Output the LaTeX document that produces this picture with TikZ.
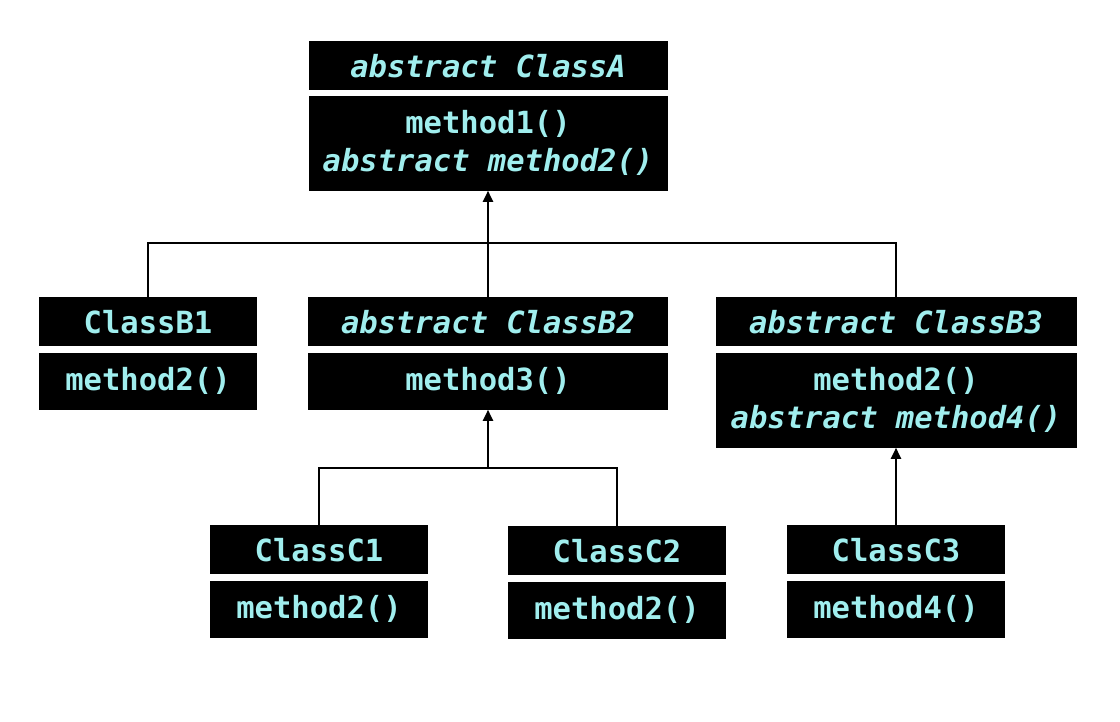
\documentclass[tikz,border=0pt]{standalone}
\usepackage{fontspec}
\setmonofont{DejaVu Sans Mono}
\usetikzlibrary{arrows.meta, positioning}
\definecolor{umltext}{RGB}{160,238,238}

\begin{document}
\begin{tikzpicture}[
      x=1pt, y=1pt,
      node distance=6pt,
      head/.style={fill=black, text=umltext, anchor=north, inner sep=0pt, minimum height=49pt, font=\ttfamily\bfseries\fontsize{30.5}{38}\selectfont},
      body/.style={fill=black, text=umltext, inner sep=0pt, align=center, minimum height=57pt, font=\ttfamily\bfseries\fontsize{30.5}{38}\selectfont},
      tall/.style={body, minimum height=95pt},
      conn/.style={line width=2.2pt},
      arrow/.style={-{Triangle[length=11pt, width=10pt]}, line width=2.2pt}
  ]
    \useasboundingbox (0,0) rectangle (1120,722);

    \node[head, minimum width=359pt] (ah) at (488,681) {\itshape abstract ClassA};
    \node[tall, minimum width=359pt, below=5pt of ah] (ab) {method1()\\\itshape abstract method2()};

    \node[head, minimum width=218pt] (b1h) at (148,425) {ClassB1};
    \node[body, minimum width=218pt, below=of b1h] (b1b) {method2()};

    \node[head, minimum width=360pt] (b2h) at (488,425) {\itshape abstract ClassB2};
    \node[body, minimum width=360pt, below=of b2h] (b2b) {method3()};

    \node[head, minimum width=361pt] (b3h) at (896,425) {\itshape abstract ClassB3};
    \node[tall, minimum width=361pt, below=of b3h] (b3b) {method2()\\\itshape abstract method4()};

    \node[head, minimum width=218pt] (c1h) at (319,197) {ClassC1};
    \node[body, minimum width=218pt, below=of c1h] (c1b) {method2()};

    \node[head, minimum width=218pt] (c2h) at (617,196) {ClassC2};
    \node[body, minimum width=218pt, below=of c2h] (c2b) {method2()};

    \node[head, minimum width=218pt] (c3h) at (896,197) {ClassC3};
    \node[body, minimum width=218pt, below=of c3h] (c3b) {method4()};

    \coordinate (cbus) at (488,254);

    \draw[arrow] (b2h.north) -- (ab.south);
    \draw[conn] (b1h.north) -- ++(0,54) -| (b3h.north);
    \draw[arrow] (cbus) -- (b2b.south);
    \draw[conn] (c1h.north) |- (cbus) -| (c2h.north);
    \draw[arrow] (c3h.north) -- (b3b.south);
  \end{tikzpicture}
\end{document}
